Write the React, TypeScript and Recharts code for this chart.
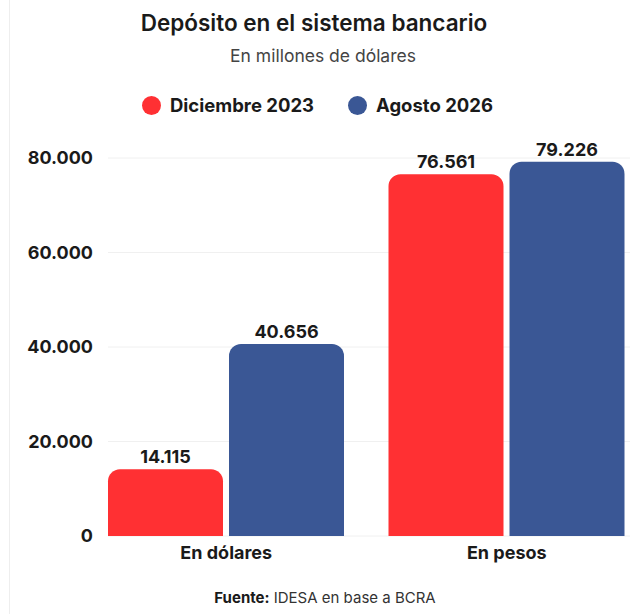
import React from 'react';
import { BarChart, Bar, XAxis, YAxis, CartesianGrid, LabelList } from 'recharts';

const categories = ['En dólares', 'En pesos'];
const dic2023 = [14115, 76561];
const ago2026 = [40656, 79226];
const yTicks = [0, 20000, 40000, 60000, 80000];

const RED = '#ff3033';
const BLUE = '#3a5795';
const FONT = 'Inter, "Noto Sans", sans-serif';

const data = categories.map((name, i) => ({ name, dic2023: dic2023[i], ago2026: ago2026[i] }));

const fmt = (v: number) => String(v).replace(/\B(?=(\d{3})+(?!\d))/g, '.');

function LegendItem({ color, label }: { color: string; label: string }) {
  return (
    <div style={{ display: 'flex', alignItems: 'center', gap: 9 }}>
      <span style={{ width: 19, height: 19, borderRadius: 10, background: color, display: 'inline-block' }} />
      <span style={{ fontSize: 18.5, fontWeight: 700, color: '#1a1a1a' }}>{label}</span>
    </div>
  );
}

export default function App() {
  return (
    <div
      style={{
        position: 'absolute',
        top: 0,
        left: 0,
        width: 640,
        height: 614,
        background: '#fff',
        fontFamily: FONT,
        overflow: 'hidden',
      }}
    >
      <div style={{ position: 'absolute', left: 9, top: 0, width: 1, height: 614, background: '#eeeeee' }} />
      <div style={{ position: 'absolute', top: 9, left: 0, width: 640, textAlign: 'center', fontSize: 22.5, fontWeight: 600, color: '#1a1a1a' }}>
        <span style={{ marginLeft: -12 }}>Depósito en el sistema bancario</span>
      </div>
      <div style={{ position: 'absolute', top: 45, left: 0, width: 640, textAlign: 'center', fontSize: 17.5, color: '#444' }}>
        <span style={{ marginLeft: 6 }}>En millones de dólares</span>
      </div>
      <div style={{ position: 'absolute', top: 94, left: 142, display: 'flex', gap: 34 }}>
        <LegendItem color={RED} label="Diciembre 2023" />
        <LegendItem color={BLUE} label="Agosto 2026" />
      </div>

      <div style={{ position: 'absolute', top: 130, left: 0 }}>
        <BarChart
          width={640}
          height={450}
          data={data}
          margin={{ top: 28, right: 10, left: 0, bottom: 14 }}
          barGap={6}
          barCategoryGap={22}
        >
          <CartesianGrid vertical={false} stroke="#f0f0f0" />
          <XAxis
            dataKey="name"
            axisLine={false}
            tickLine={false}
            tickSize={0}
            tickMargin={10}
            height={30}
            padding={{ left: -22, right: -17 }}
            tick={{ fontSize: 18, fontWeight: 700, fill: '#1a1a1a', fontFamily: FONT }}
          />
          <YAxis
            domain={[0, 80000]}
            ticks={yTicks}
            width={108}
            axisLine={false}
            tickLine={false}
            tickSize={0}
            tickMargin={15}
            tickFormatter={fmt}
            tick={{ fontSize: 18, fontWeight: 700, fill: '#1a1a1a', fontFamily: FONT }}
          />
          <Bar dataKey="dic2023" fill={RED} radius={[12, 12, 0, 0]} isAnimationActive={false}>
            <LabelList dataKey="dic2023" position="top" offset={6} formatter={fmt} style={{ fontSize: 18, fontWeight: 700, fill: '#1a1a1a', fontFamily: FONT }} />
          </Bar>
          <Bar dataKey="ago2026" fill={BLUE} radius={[12, 12, 0, 0]} isAnimationActive={false}>
            <LabelList dataKey="ago2026" position="top" offset={6} formatter={fmt} style={{ fontSize: 18, fontWeight: 700, fill: '#1a1a1a', fontFamily: FONT }} />
          </Bar>
        </BarChart>
      </div>

      <div style={{ position: 'absolute', top: 588, left: 0, width: 640, textAlign: 'center', fontSize: 15, color: '#333' }}>
        <span style={{ marginLeft: 10 }}>
          <b style={{ color: '#1a1a1a' }}>Fuente:</b> IDESA en base a BCRA
        </span>
      </div>
    </div>
  );
}
